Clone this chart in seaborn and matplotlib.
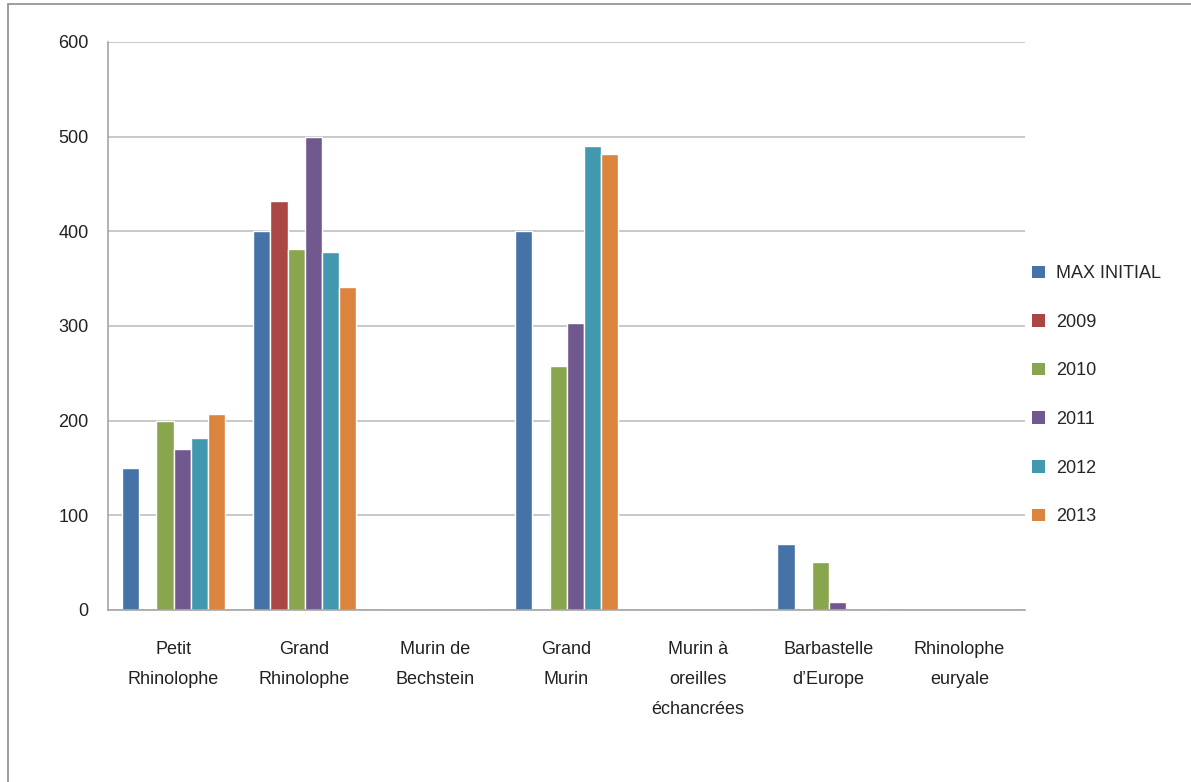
import matplotlib
matplotlib.use("Agg")
import matplotlib.pyplot as plt
from matplotlib.patches import Rectangle
import numpy as np
import pandas as pd
import seaborn as sns

categories = ["Petit\nRhinolophe", "Grand\nRhinolophe", "Murin de\nBechstein", "Grand\nMurin",
              "Murin à\noreilles\néchancrées", "Barbastelle\nd\u2019Europe", "Rhinolophe\neuryale"]
series = ["MAX INITIAL", "2009", "2010", "2011", "2012", "2013"]
max_initial = [150, 400, 0, 400, 0, 70, 0]
y2009 = [0, 432, 0, 0, 0, 0, 0]
y2010 = [200, 381, 0, 258, 0, 51, 0]
y2011 = [170, 500, 0, 303, 0, 8, 0]
y2012 = [182, 378, 0, 490, 0, 0, 0]
y2013 = [207, 341, 0, 482, 0, 0, 0]
colors = ["#4572A7", "#AA4643", "#89A54E", "#71588F", "#4198AF", "#DB843D"]

values = [max_initial, y2009, y2010, y2011, y2012, y2013]
rows = []
for s, vals in zip(series, values):
    for c, v in zip(categories, vals):
        rows.append({"cat": c, "serie": s, "val": v})
df = pd.DataFrame(rows)

sns.set_style("white")
plt.rcParams['font.family'] = ['Liberation Sans', 'DejaVu Sans']

fig = plt.figure(figsize=(11.91, 7.82), dpi=100)
ax = fig.add_axes([0.0907, 0.22, 0.770, 0.7263])

sns.barplot(data=df, x="cat", y="val", hue="serie", hue_order=series, order=categories,
            palette=colors, width=0.78, saturation=1, gap=0, ax=ax, legend=True)

ax.set_ylim(0, 600)
ax.set_xlim(-0.5, len(categories) - 0.5)
ax.set_yticks(np.arange(0, 601, 100))
ax.yaxis.grid(True, color="#BFBFBF", linewidth=1.2)
ax.set_axisbelow(True)
ax.set_xlabel("")
ax.set_ylabel("")

for sp in ["top", "right"]:
    ax.spines[sp].set_visible(False)
for sp in ["left", "bottom"]:
    ax.spines[sp].set_color("#A6A6A6")
    ax.spines[sp].set_linewidth(1.2)

ax.tick_params(axis="y", length=6, color="#A6A6A6", labelsize=13, pad=8, labelcolor="#222222")
ax.tick_params(axis="x", which="major", length=0, labelsize=13, pad=22, labelcolor="#222222")
ax.set_xticks(np.arange(-0.5, len(categories), 1), minor=True)
ax.tick_params(axis="x", which="minor", length=6, color="#A6A6A6")
for t in ax.get_xticklabels():
    t.set_linespacing(2.0)
    t.set_verticalalignment("top")

leg = ax.legend(loc="center left", bbox_to_anchor=(0.99, 0.378), frameon=False, fontsize=13,
                handlelength=0.7, handleheight=0.7, handletextpad=0.6, labelspacing=1.75)
for h in leg.legend_handles:
    h.set_edgecolor("none")

fig.patches.append(Rectangle((0.007, -0.01), 1.0, 1.005, transform=fig.transFigure,
                             fill=False, edgecolor="#8C8C8C", linewidth=1.2))

fig.savefig("out.png", dpi=100)
